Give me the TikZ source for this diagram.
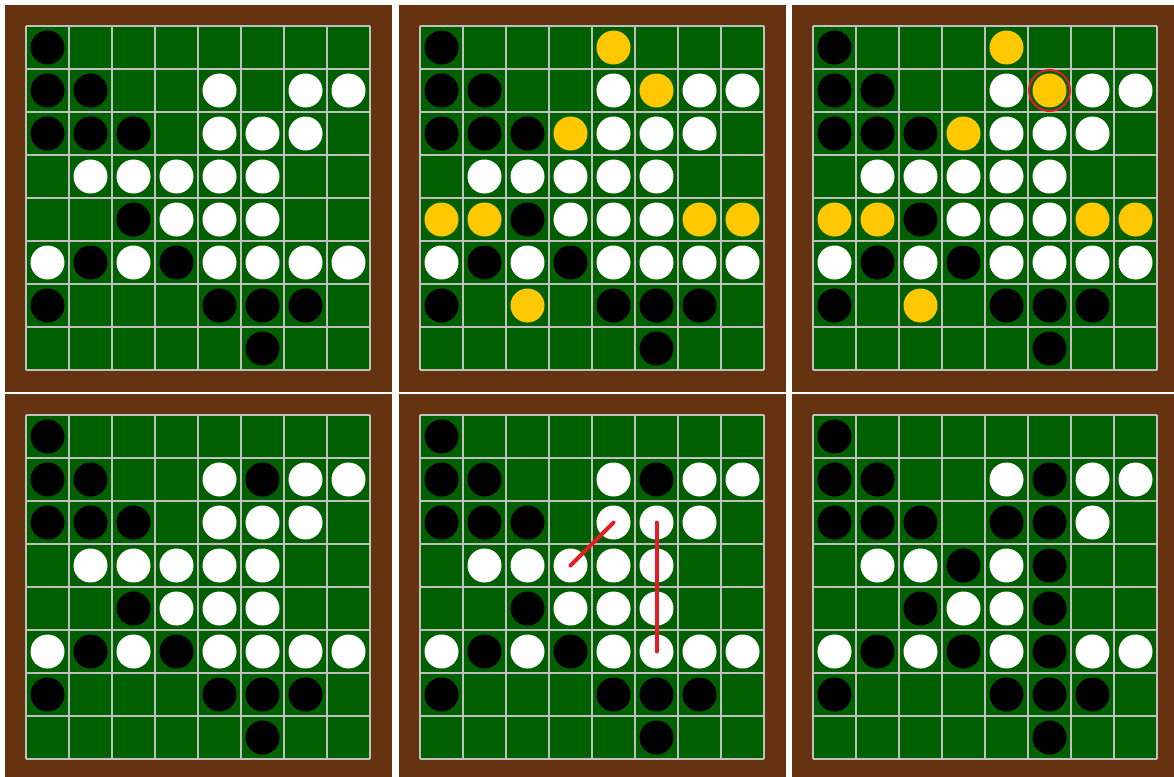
\documentclass[tikz,border=0pt]{standalone}
\usepackage{xcolor}
\usepackage{tikz}
\definecolor{boardbrown}{RGB}{102,51,17}
\definecolor{feltgreen}{RGB}{0,96,0}
\definecolor{gridgray}{RGB}{192,192,192}
\definecolor{hintyellow}{RGB}{255,200,0}
\definecolor{markred}{RGB}{225,30,40}

\begin{document}
\begin{tikzpicture}[x=1pt,y=-1pt,
  cells/.style 2 args={shift={(#1+21,#2+21)},x=43pt,y=-43pt},
  blackdisc/.style={fill=black},
  whitedisc/.style={fill=white},
  hintdisc/.style={fill=hintyellow},
  flipline/.style={markred,line width=4pt,line cap=round}]
  \useasboundingbox (0,0) rectangle (1174,776);
  \clip (0,0) rectangle (1174,776);
  \fill[white] (0,0) rectangle (1174,776);
  % frames, felt and grid
  \foreach \ox/\oy in {5/5,399/5,792/5,5/394,399/394,792/394} {
    \fill[boardbrown] (\ox,\oy) rectangle ++(387,387);
    \begin{scope}[cells={\ox}{\oy}]
      \fill[feltgreen] (0,0) rectangle (8,8);
      \foreach \i in {0,...,8} {
        \draw[gridgray,line width=1.5pt] (\i,0) -- (\i,8);
        \draw[gridgray,line width=1.5pt] (0,\i) -- (8,\i);
      }
    \end{scope}
  }
  % discs that all six boards share
  \foreach \ox/\oy in {5/5,399/5,792/5,5/394,399/394,792/394} {
    \begin{scope}[cells={\ox}{\oy}]
      \foreach \c/\r in {0/0,0/1,1/1,0/2,1/2,2/2,2/4,1/5,3/5,0/6,4/6,5/6,6/6,5/7}
        \fill[blackdisc] (\c+0.5,\r+0.5) circle[radius=17pt];
      \foreach \c/\r in {4/1,6/1,7/1,6/2,1/3,2/3,4/3,3/4,4/4,0/5,2/5,4/5,6/5,7/5}
        \fill[whitedisc] (\c+0.5,\r+0.5) circle[radius=17pt];
    \end{scope}
  }
  % the line still white before the move
  \foreach \ox/\oy in {5/5,399/5,792/5,5/394,399/394} {
    \begin{scope}[cells={\ox}{\oy}]
      \foreach \c/\r in {4/2,5/2,3/3,5/3,5/4,5/5}
        \fill[whitedisc] (\c+0.5,\r+0.5) circle[radius=17pt];
    \end{scope}
  }
  % legal moves in yellow
  \foreach \ox/\oy in {399/5,792/5} {
    \begin{scope}[cells={\ox}{\oy}]
      \foreach \c/\r in {4/0,5/1,3/2,0/4,1/4,6/4,7/4,2/6}
        \fill[hintdisc] (\c+0.5,\r+0.5) circle[radius=17pt];
    \end{scope}
  }
  \begin{scope}[cells={792}{5}]
    \draw[markred,line width=2pt] (5.5,1.5) circle[radius=20.5pt];
  \end{scope}
  % the move and its flips
  \foreach \ox/\oy in {5/394,399/394,792/394} {
    \begin{scope}[cells={\ox}{\oy}]
      \fill[blackdisc] (5.5,1.5) circle[radius=17pt];
    \end{scope}
  }
  \begin{scope}[cells={399}{394}]
    \draw[flipline] (3.5,3.5) -- (4.5,2.5);
    \draw[flipline] (5.5,2.5) -- (5.5,5.5);
  \end{scope}
  \begin{scope}[cells={792}{394}]
    \foreach \c/\r in {4/2,5/2,3/3,5/3,5/4,5/5}
      \fill[blackdisc] (\c+0.5,\r+0.5) circle[radius=17pt];
  \end{scope}
\end{tikzpicture}
\end{document}
